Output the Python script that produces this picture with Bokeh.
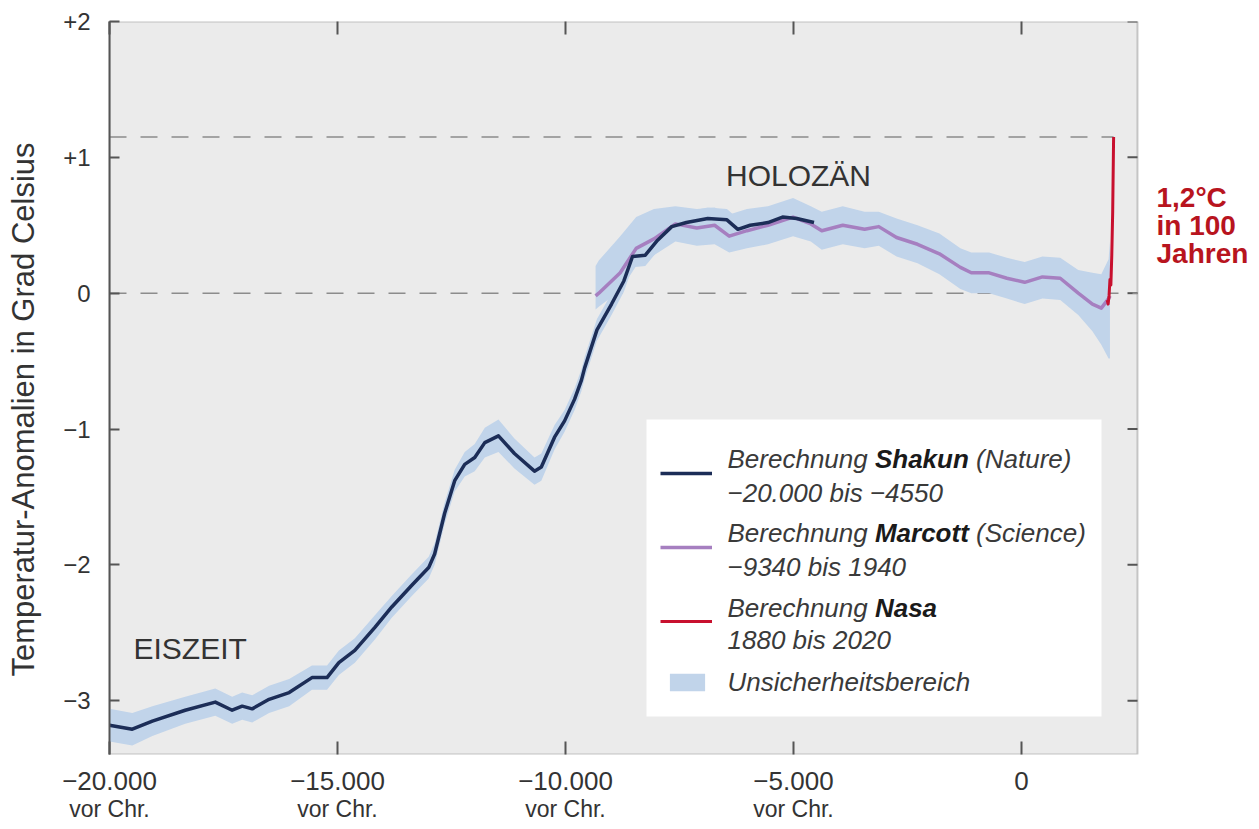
import numpy as np
from bokeh.plotting import figure
from bokeh.models import (Range1d, LinearAxis, FixedTicker, Label,
                          BoxAnnotation, Legend, LegendItem)
from bokeh.embed import file_html
from bokeh.resources import INLINE

# ---------------- data ----------------
shakun_years = [-20000, -19500, -19060, -18340, -17680, -17310, -17090, -16870, -16500, -16060,
                -15560, -15230, -14970, -14620, -14180, -13810, -13370, -13000, -12870, -12650,
                -12430, -12210, -11990, -11770, -11470, -11120, -10680, -10530, -10240, -10020,
                -9800, -9650, -9580, -9310, -8990, -8720, -8530, -8250, -7980, -7670,
                -7350, -6880, -6460, -6220, -5950, -5560, -5240, -4930, -4550]
shakun_vals = [-3.18, -3.21, -3.15, -3.07, -3.01, -3.07, -3.04, -3.06, -2.99, -2.94,
               -2.83, -2.83, -2.72, -2.63, -2.46, -2.31, -2.15, -2.02, -1.92, -1.62,
               -1.38, -1.26, -1.21, -1.10, -1.05, -1.18, -1.31, -1.28, -1.06, -0.94,
               -0.78, -0.64, -0.55, -0.27, -0.08, 0.09, 0.27, 0.28, 0.39, 0.49,
               0.52, 0.55, 0.54, 0.47, 0.50, 0.52, 0.56, 0.55, 0.52]
shakun_err = [0.12, 0.12, 0.11, 0.10, 0.10, 0.10, 0.10, 0.10, 0.10, 0.10,
              0.09, 0.09, 0.09, 0.09, 0.09, 0.08, 0.08, 0.08, 0.08, 0.08,
              0.08, 0.09, 0.10, 0.11, 0.12, 0.11, 0.10, 0.10, 0.09, 0.08,
              0.08, 0.08, 0.08, 0.08, 0.08, 0.08, 0.08, 0.08, 0.08, 0.08,
              0.08, 0.08, 0.08, 0.08, 0.08, 0.08, 0.08, 0.08, 0.08]

marcott_years = [-9340, -9270, -8800, -8450, -8060, -7590, -7120, -6730, -6410, -6020,
                 -5560, -5010, -4620, -4380, -3920, -3440, -3130, -2740, -2280, -1800,
                 -1340, -1100, -710, -320, 70, 460, 850, 1245, 1555, 1750,
                 1910, 1940]
marcott_vals = [-0.02, 0.00, 0.15, 0.33, 0.40, 0.51, 0.48, 0.50, 0.42, 0.46,
                0.50, 0.56, 0.51, 0.46, 0.50, 0.47, 0.49, 0.41, 0.36, 0.29,
                0.19, 0.15, 0.15, 0.11, 0.08, 0.12, 0.11, 0.00, -0.08, -0.11,
                -0.04, -0.02]
marcott_lo = [-0.12, -0.10, 0.02, 0.20, 0.28, 0.38, 0.35, 0.36, 0.30, 0.33,
              0.36, 0.42, 0.38, 0.32, 0.36, 0.33, 0.35, 0.27, 0.22, 0.14,
              0.03, 0.00, 0.00, -0.04, -0.08, -0.04, -0.05, -0.16, -0.28, -0.38,
              -0.48, -0.48]
marcott_hi = [0.20, 0.24, 0.42, 0.56, 0.62, 0.64, 0.62, 0.63, 0.58, 0.62,
              0.64, 0.70, 0.64, 0.60, 0.64, 0.60, 0.60, 0.55, 0.50, 0.44,
              0.33, 0.30, 0.30, 0.26, 0.23, 0.27, 0.26, 0.17, 0.15, 0.14,
              0.25, 0.38]

nasa_years = [1880, 1900, 1920, 1940, 1960, 1980, 2000, 2020]
nasa_vals = [-0.05, -0.08, -0.02, 0.10, 0.06, 0.28, 0.60, 1.15]

ref_levels = [0.0, 1.15]

x_ticks = [-20000, -15000, -10000, -5000, 0]
x_tick_labels = ["\u221220.000", "\u221215.000", "\u221210.000", "\u22125.000", "0"]
x_tick_sublabels = ["vor Chr.", "vor Chr.", "vor Chr.", "vor Chr.", ""]
y_ticks = [-3, -2, -1, 0, 1, 2]
y_tick_labels = ["\u22123", "\u22122", "\u22121", "0", "+1", "+2"]

y_axis_title = "Temperatur-Anomalien in Grad Celsius"
era_labels = ["HOLOZ\u00c4N", "EISZEIT"]
callout_lines = ["1,2\u00b0C", "in 100", "Jahren"]
legend_prefix = "Berechnung"
legend_names = ["Shakun", "Marcott", "Nasa"]
legend_sources = ["(Nature)", "(Science)", ""]
legend_periods = ["\u221220.000 bis \u22124550", "\u22129340 bis 1940", "1880 bis 2020"]
band_label = "Unsicherheitsbereich"

# ---------------- styling / layout ----------------
FONT = "Liberation Sans"
C_SHAKUN = "#1c2d57"
C_MARCOTT = "#a67fc0"
C_NASA = "#c8102e"
C_BAND = "#c1d4ea"
C_FRAME = "#555555"
C_TEXT = "#333333"
C_RED = "#b8141e"
C_DASH = "#8c8c8c"

X0, X1 = -20000, 2544          # extent of the grey plot box
Y0, Y1 = -3.396, 2.0
FL, FT, BW, FH = 109, 21, 1028, 733   # box position in page pixels
XS = (X1 - X0) / BW                    # data units per pixel
FW = 1141                              # frame reaches to page x 1250
XR = X0 + FW * XS


def X(px):
    return X0 + (px - FL) * XS


def Y(py):
    return Y1 - (py - FT) * (Y1 - Y0) / FH


p = figure(frame_width=FW, frame_height=FH,
           x_range=Range1d(X0, XR), y_range=Range1d(Y0, Y1),
           output_backend="svg", toolbar_location=None,
           min_border_left=FL, min_border_right=0,
           min_border_top=FT, min_border_bottom=75,
           background_fill_color="white", border_fill_color="white",
           outline_line_color=None)
p.xgrid.visible = False
p.ygrid.visible = False

# grey plot box with its border
p.add_layout(BoxAnnotation(left=X0, right=X1, bottom=Y0, top=Y1, fill_color="#ebebeb",
                           fill_alpha=1, line_color=C_FRAME, line_width=2, level="underlay"))

# bottom axis (numbers)
xa = p.xaxis[0]
xa.ticker = FixedTicker(ticks=x_ticks)
xa.major_label_overrides = {t: l for t, l in zip(x_ticks, x_tick_labels)}
xa.major_label_text_font = FONT
xa.major_label_text_font_size = "26px"
xa.major_label_text_color = C_TEXT
xa.major_label_standoff = 17
xa.major_tick_in = 13
xa.major_tick_out = 0
xa.major_tick_line_color = C_FRAME
xa.major_tick_line_width = 2
xa.minor_tick_line_color = None
xa.axis_line_color = None

# bottom axis (second line "vor Chr.")
sub_ticks = [t for t, s in zip(x_ticks, x_tick_sublabels) if s]
xa2 = LinearAxis(ticker=FixedTicker(ticks=sub_ticks),
                 major_label_overrides={t: s for t, s in zip(x_ticks, x_tick_sublabels) if s},
                 axis_line_color=None, major_tick_line_color=None, minor_tick_line_color=None,
                 major_tick_in=0, major_tick_out=0, major_label_standoff=3,
                 major_label_text_font=FONT, major_label_text_font_size="23px",
                 major_label_text_color=C_TEXT)
p.add_layout(xa2, "below")

# left axis
ya = p.yaxis[0]
ya.ticker = FixedTicker(ticks=y_ticks)
ya.major_label_overrides = {t: l for t, l in zip(y_ticks, y_tick_labels)}
ya.major_label_text_font = FONT
ya.major_label_text_font_size = "24px"
ya.major_label_text_color = C_TEXT
ya.major_label_standoff = 19
ya.major_tick_in = 10
ya.major_tick_out = 0
ya.major_tick_line_color = C_FRAME
ya.major_tick_line_width = 2
ya.minor_tick_line_color = None
ya.axis_line_color = C_FRAME
ya.axis_line_width = 2
ya.axis_label = y_axis_title + "\u00a0" * 5
ya.axis_label_text_font = FONT
ya.axis_label_text_font_size = "31px"
ya.axis_label_text_font_style = "normal"
ya.axis_label_text_color = C_TEXT
ya.axis_label_standoff = 19

# top axis (ticks only)
top_ax = LinearAxis(ticker=FixedTicker(ticks=x_ticks), major_tick_in=13, major_tick_out=0,
                    major_label_text_font_size="1px", major_label_text_color=None,
                    major_label_standoff=0,
                    major_tick_line_color=C_FRAME, major_tick_line_width=2,
                    minor_tick_line_color=None, axis_line_color=None)
p.add_layout(top_ax, "above")

# right-edge ticks of the plot box
tick_len = 10 * XS
p.segment(x0=[X1 - tick_len] * len(y_ticks), y0=y_ticks, x1=[X1] * len(y_ticks), y1=y_ticks,
          line_color=C_FRAME, line_width=2)

# reference dashed lines (drawn before the bands so that they sit underneath)
p.segment(x0=[X0, X0], y0=ref_levels, x1=[X1, nasa_years[-1]], y1=ref_levels,
          line_color=C_DASH, line_width=1.6, line_dash="17 14")

# uncertainty bands
sh_v = np.array(shakun_vals)
sh_e = np.array(shakun_err)
r_band_s = p.varea(x=shakun_years, y1=sh_v - sh_e, y2=sh_v + sh_e, fill_color=C_BAND, fill_alpha=1)
r_band_m = p.varea(x=marcott_years, y1=marcott_lo, y2=marcott_hi, fill_color=C_BAND, fill_alpha=1)

# curves
r_ma = p.line(marcott_years, marcott_vals, line_color=C_MARCOTT, line_width=3.5, line_join="round")
r_sh = p.line(shakun_years, shakun_vals, line_color=C_SHAKUN, line_width=3.5, line_join="round")
r_na = p.line(nasa_years, nasa_vals, line_color=C_NASA, line_width=3, line_join="round")

# era labels
p.add_layout(Label(x=X(798), y=Y(175), text=era_labels[0], text_align="center",
                   text_baseline="middle", text_font=FONT, text_font_size="30px",
                   text_color=C_TEXT))
p.add_layout(Label(x=X(133), y=Y(648), text=era_labels[1], text_align="left",
                   text_baseline="middle", text_font=FONT, text_font_size="30px",
                   text_color=C_TEXT))

# red callout (to the right of the plot box)
for txt, by in zip(callout_lines, [197, 225, 253]):
    p.add_layout(Label(x=X(1156), y=Y(by), text=txt, text_align="left",
                       text_baseline="alphabetic", text_font=FONT, text_font_size="28px",
                       text_font_style="bold", text_color=C_RED))

# legend background box
p.add_layout(BoxAnnotation(left=X(646), right=X(1101), top=Y(419), bottom=Y(716),
                           fill_color="white", fill_alpha=1, line_color=None))

# legend swatches
leg_a = Legend(items=[LegendItem(label=" ", renderers=[r_sh]),
                      LegendItem(label=" ", renderers=[r_ma]),
                      LegendItem(label=" ", renderers=[r_na])],
               location=(551, 123), orientation="vertical", glyph_width=52,
               glyph_height=20, label_height=20, label_width=0, label_standoff=0,
               label_text_font_size="1px", label_text_color=None, label_text_alpha=0,
               spacing=54, padding=0, margin=0,
               border_line_color=None, background_fill_alpha=0)
p.add_layout(leg_a)
leg_b = Legend(items=[LegendItem(label=" ", renderers=[r_band_m])],
               location=(556, 61), orientation="vertical", glyph_width=44,
               glyph_height=22, label_height=22, label_width=0, label_standoff=0,
               label_text_font_size="1px", label_text_color=None, label_text_alpha=0,
               spacing=0, padding=0, margin=0,
               border_line_color=None, background_fill_alpha=0)
p.add_layout(leg_b)

# legend texts
FS = 26
name_w = {"Shakun": 3.612, "Marcott": 3.611, "Nasa": 2.39}
tx = 727
line1_y = [458, 532, 607]
line2_y = [492, 566, 639]
for name, src, per, y1, y2 in zip(legend_names, legend_sources, legend_periods, line1_y, line2_y):
    p.add_layout(Label(x=X(tx), y=Y(y1), text=legend_prefix, text_baseline="middle",
                       text_font=FONT, text_font_size=f"{FS}px", text_font_style="italic",
                       text_color="#3a3a3a"))
    nx = tx + 5.67 * FS
    p.add_layout(Label(x=X(nx), y=Y(y1), text=name, text_baseline="middle",
                       text_font=FONT, text_font_size=f"{FS}px", text_font_style="bold italic",
                       text_color="#1a1a1a"))
    if src:
        sx = nx + (name_w[name] + 0.278) * FS
        p.add_layout(Label(x=X(sx), y=Y(y1), text=src, text_baseline="middle",
                           text_font=FONT, text_font_size=f"{FS}px", text_font_style="italic",
                           text_color="#3a3a3a"))
    p.add_layout(Label(x=X(tx), y=Y(y2), text=per, text_baseline="middle",
                       text_font=FONT, text_font_size=f"{FS}px", text_font_style="italic",
                       text_color="#3a3a3a"))
p.add_layout(Label(x=X(tx), y=Y(681), text=band_label, text_baseline="middle",
                   text_font=FONT, text_font_size=f"{FS}px", text_font_style="italic",
                   text_color="#3a3a3a"))

open("out.html", "w").write(file_html(p, INLINE))
